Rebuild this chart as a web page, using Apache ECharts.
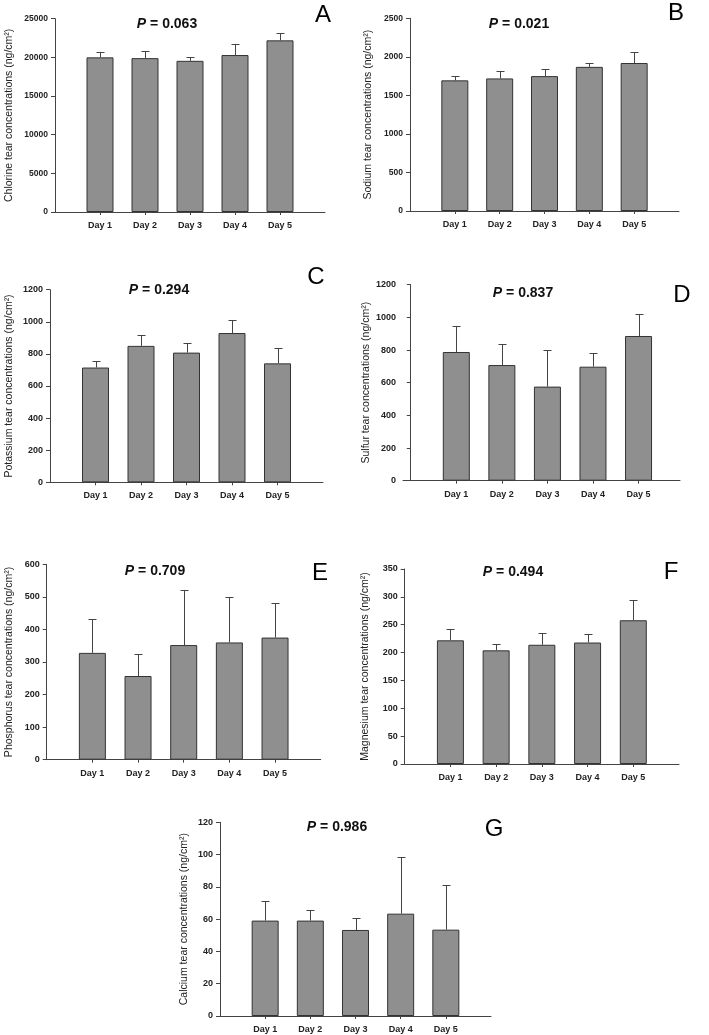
<!DOCTYPE html>
<html>
<head>
<meta charset="utf-8">
<script src="https://cdn.jsdelivr.net/npm/echarts@6/dist/echarts.min.js"></script>
<style>
  html, body { margin: 0; padding: 0; background: #fff; }
  #chart { width: 709px; height: 1035px; }
</style>
</head>
<body>
<div id="chart"></div>
<script>
// tear element concentrations, 5 days
var days = ['Day 1', 'Day 2', 'Day 3', 'Day 4', 'Day 5'];

var chlorine = [20000, 19900, 19550, 20300, 22200];
var chlorineErr = [650, 900, 550, 1400, 1000];
var sodium = [1695, 1720, 1750, 1870, 1920];
var sodiumErr = [55, 90, 95, 55, 140];
var potassium = [715, 850, 808, 930, 741];
var potassiumErr = [40, 70, 60, 80, 98];
var sulfur = [788, 708, 576, 698, 886];
var sulfurErr = [161, 127, 226, 84, 134];
var phosphorus = [328, 257, 352, 360, 375];
var phosphorusErr = [105, 68, 170, 139, 105];
var magnesium = [222, 204, 214, 218, 258];
var magnesiumErr = [20, 12, 22, 15, 36];
var calcium = [59.1, 59.1, 53.3, 63.4, 53.5];
var calciumErr = [12, 6.6, 7.5, 35, 27.5];

var yMax = [25000, 2500, 1200, 1200, 600, 350, 120];
var yStep = [5000, 500, 200, 200, 100, 50, 20];
var pValues = ['0.063', '0.021', '0.294', '0.837', '0.709', '0.494', '0.986'];
var letters = ['A', 'B', 'C', 'D', 'E', 'F', 'G'];
var names = ['Chlorine', 'Sodium', 'Potassium', 'Sulfur', 'Phosphorus', 'Magnesium', 'Calcium'];
var means = [chlorine, sodium, potassium, sulfur, phosphorus, magnesium, calcium];
var errs = [chlorineErr, sodiumErr, potassiumErr, sulfurErr, phosphorusErr, magnesiumErr, calciumErr];

// panel layout (pixels)
var panels = [
    {left: 55,  top: 18.7,  width: 270, height: 193.3, xMin: 0,     xMax: 6,    gap: 40, fs: 8.5, p: [167, 24],  l: [323, 15]},
    {left: 410, top: 18.3,  width: 269, height: 192.7, xMin: 0,     xMax: 6,    gap: 36, fs: 8.5, p: [519, 24],  l: [676, 13]},
    {left: 50,  top: 289.7, width: 273, height: 192.6, xMin: 0,     xMax: 6,    gap: 35, fs: 9,   p: [159, 290], l: [316, 277]},
    {left: 403, top: 284.7, width: 277, height: 196,   xMin: -0.17, xMax: 5.91, gap: 29, fs: 9,   p: [523, 293], l: [682, 295]},
    {left: 46.7, top: 564.3, width: 274, height: 195.4, xMin: 0,    xMax: 6,    gap: 32, fs: 9,   p: [155, 571], l: [320, 573]},
    {left: 404.7, top: 569, width: 274.3, height: 195,  xMin: 0,    xMax: 6,    gap: 34, fs: 9,   p: [513, 572], l: [671, 572]},
    {left: 220, top: 822.3, width: 271, height: 193.7, xMin: 0,     xMax: 6,    gap: 30, fs: 9,   p: [337, 827], l: [494, 829]}
];

var FONT = "'Liberation Sans', Arial, sans-serif";
var AXIS = '#444';

function renderErr(params, api) {
    var x = api.value(0), v = api.value(1), e = api.value(2);
    var a = api.coord([x, v]);
    var b = api.coord([x, v + e]);
    var px = Math.round(a[0]) + 0.5;
    var py = Math.round(b[1]) + 0.5;
    return {
        type: 'group',
        children: [
            {type: 'line', shape: {x1: px, y1: a[1], x2: px, y2: py}, style: {stroke: AXIS, lineWidth: 1}},
            {type: 'line', shape: {x1: px - 4, y1: py, x2: px + 4, y2: py}, style: {stroke: AXIS, lineWidth: 1}}
        ]
    };
}

var grid = [], xAxis = [], yAxis = [], series = [], graphic = [];

panels.forEach(function (pn, k) {
    grid.push({left: pn.left, top: pn.top, width: pn.width, height: pn.height});
    xAxis.push({
        type: 'value', gridIndex: k, min: pn.xMin, max: pn.xMax,
        splitLine: {show: false},
        axisLine: {lineStyle: {color: AXIS, width: 1}},
        axisTick: {customValues: [1, 2, 3, 4, 5], length: 3, lineStyle: {color: AXIS}},
        axisLabel: {
            customValues: [1, 2, 3, 4, 5], margin: 9,
            fontFamily: FONT, fontSize: 9, fontWeight: 'bold', color: '#222',
            formatter: function (v) { return days[Math.round(v) - 1] || ''; }
        }
    });
    yAxis.push({
        type: 'value', gridIndex: k, min: 0, max: yMax[k], interval: yStep[k],
        splitLine: {show: false},
        axisLine: {show: true, lineStyle: {color: AXIS, width: 1}},
        axisTick: {show: true, length: 4, lineStyle: {color: AXIS}},
        axisLabel: {
            fontFamily: FONT, fontSize: pn.fs, fontWeight: 'bold', color: '#222', margin: 7,
            formatter: function (v) { return String(v); }
        },
        name: names[k] + ' tear concentrations (ng/cm\u00B2)',
        nameLocation: 'middle', nameGap: pn.gap, nameRotate: 90,
        nameTextStyle: {fontFamily: FONT, fontSize: 10.5, color: '#222'}
    });
    series.push({
        type: 'bar', xAxisIndex: k, yAxisIndex: k, barWidth: 27,
        itemStyle: {color: '#8f8f8f', borderColor: '#333', borderWidth: 1},
        data: means[k].map(function (v, i) { return [i + 1, v]; })
    });
    series.push({
        type: 'custom', xAxisIndex: k, yAxisIndex: k, z: 3,
        renderItem: renderErr,
        data: means[k].map(function (v, i) { return [i + 1, v, errs[k][i]]; })
    });
    graphic.push({
        type: 'text', x: pn.p[0], y: pn.p[1],
        style: {
            text: '{i|P} = ' + pValues[k],
            rich: {i: {fontStyle: 'italic', fontWeight: 'bold', fontSize: 14, fontFamily: FONT, fill: '#111'}},
            fontFamily: FONT, fontSize: 14, fontWeight: 'bold', fill: '#111',
            align: 'center', verticalAlign: 'middle'
        }
    });
    graphic.push({
        type: 'text', x: pn.l[0], y: pn.l[1],
        style: {
            text: letters[k], fontFamily: FONT, fontSize: 24, fill: '#000',
            align: 'center', verticalAlign: 'middle'
        }
    });
});

var chart = echarts.init(document.getElementById('chart'));
chart.setOption({
    backgroundColor: '#fff',
    animation: false,
    grid: grid,
    xAxis: xAxis,
    yAxis: yAxis,
    series: series,
    graphic: graphic
});
</script>
</body>
</html>
